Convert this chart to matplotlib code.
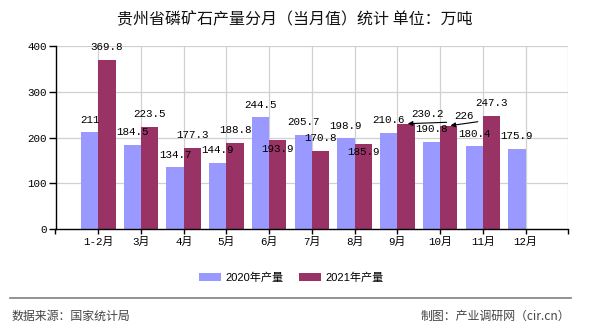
import numpy as np
import matplotlib
matplotlib.use("Agg")
import matplotlib.pyplot as plt
from matplotlib.patches import Patch

plt.rcParams['font.family'] = ['Noto Sans CJK SC', 'DejaVu Sans']

# ---- data ----
categories = ['1-2月', '3月', '4月', '5月', '6月', '7月', '8月', '9月', '10月', '11月', '12月']
v2020 = [211, 184.5, 134.7, 144.9, 244.5, 205.7, 198.9, 210.6, 190.8, 180.4, 175.9]
v2021 = [369.8, 223.5, 177.3, 188.8, 193.9, 170.8, 185.9, 230.2, 226, 247.3, np.nan]
series_names = ['2020年产量', '2021年产量']
yticks = [0, 100, 200, 300, 400]

# ---- style ----
c2020 = '#9999FF'
c2021 = '#993366'
grid_c = '#D0D0D0'
W, H = 590, 330
fig = plt.figure(figsize=(W / 100, H / 100), dpi=100)
ax = fig.add_axes([55.5 / W, 1 - 229 / H, (568.3 - 55.5) / W, (229 - 46) / H])

x = np.arange(len(categories))
bw = 0.405
ax.bar(x - bw / 2, v2020, width=bw, color=c2020, zorder=3)
ax.bar(x + bw / 2, v2021, width=bw, color=c2021, zorder=3)

ax.set_xlim(-1, len(categories))
ax.set_ylim(0, 400)

# grid
ax.set_yticks(yticks)
ax.set_yticklabels([str(t) for t in yticks])
ax.set_xticks(np.arange(-1, len(categories) + 1))
ax.set_xticklabels([''] + categories + [''])
for gx in range(0, len(categories) + 1):
    ax.axvline(gx, color=grid_c, lw=0.9, zorder=1)
for gy in yticks[1:]:
    ax.axhline(gy, color=grid_c, lw=0.9, zorder=1)

for s in ['top', 'right']:
    ax.spines[s].set_visible(False)
for s in ['left', 'bottom']:
    ax.spines[s].set_color('black')
    ax.spines[s].set_linewidth(1.0)
    ax.spines[s].set_zorder(4)

mono = ['Liberation Mono', 'Noto Sans CJK SC']
ax.tick_params(axis='y', length=5, width=1, pad=1.2, labelsize=7.8, colors='black')
ax.tick_params(axis='x', length=3.6, width=1, pad=2, labelsize=7.8, colors='black')
for lab in ax.get_yticklabels() + ax.get_xticklabels():
    lab.set_family(mono)

# ---- value labels ----
lab_kw = dict(textcoords='offset points', ha='center', va='center',
              fontsize=7.8, family=mono, color='black', zorder=6)
default_off = (0, 9)
off2021 = {4: (0, -6.5), 6: (0, -5.6), 7: (15.3, 7.0), 8: (11.3, 6.9)}
leaders = {7: (28, 1.0), 8: (19.7, 2.8)}

for i, v in enumerate(v2020):
    ax.annotate(f"{v:g}", xy=(x[i] - bw / 2, v), xytext=default_off, **lab_kw)
for i, v in enumerate(v2021):
    if np.isnan(v):
        continue
    off = off2021.get(i, default_off)
    ax.annotate(f"{v:g}", xy=(x[i] + bw / 2, v), xytext=off, **lab_kw)
    if i in leaders:
        ax.annotate('', xy=(x[i] + bw / 2 + 0.04, v), xytext=leaders[i],
                    textcoords='offset points',
                    arrowprops=dict(arrowstyle='-|>', color='black', lw=0.8,
                                    mutation_scale=7, shrinkA=0, shrinkB=0),
                    zorder=6)

# ---- title ----
fig.text(0.5, 1 - 19.5 / H, '贵州省磷矿石产量分月（当月值）统计 单位：万吨',
         ha='center', va='center', fontsize=11.5, color='#111111')

# ---- legend ----
handles = [Patch(facecolor=c2020, edgecolor='none'), Patch(facecolor=c2021, edgecolor='none')]
leg = fig.legend(handles, series_names, loc='center', bbox_to_anchor=(291.3 / W, 1 - 277.5 / H),
                 ncol=2, frameon=False, handlelength=1.95, handleheight=0.72,
                 handletextpad=0.4, columnspacing=1.45, borderpad=0, borderaxespad=0,
                 prop={'family': ['Liberation Sans', 'Noto Sans CJK SC'], 'size': 8})

# ---- separator and footer ----
fig.add_artist(plt.Line2D([10 / W, 571 / W], [1 - 298.3 / H, 1 - 298.3 / H],
                          color='#808080', lw=1.2))
fig.text(11.5 / W, 1 - 316.7 / H, '数据来源：国家统计局', ha='left', va='center',
         fontsize=8.6, color='#444444')
fig.text(570 / W, 1 - 316.7 / H, '制图：产业调研网（cir.cn）', ha='right', va='center',
         fontsize=8.6, color='#444444')

fig.savefig('out.png', dpi=100)
